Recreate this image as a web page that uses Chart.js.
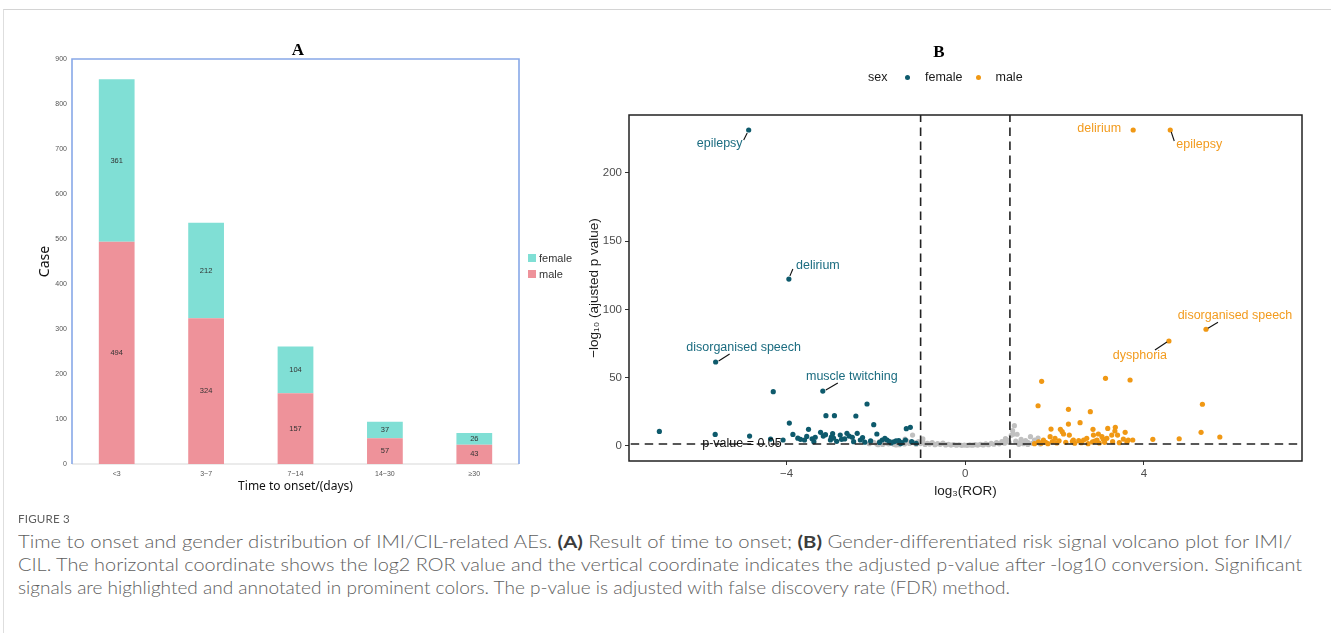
<!DOCTYPE html>
<html>
<head>
<meta charset="utf-8">
<script src="https://cdn.jsdelivr.net/npm/chart.js@4.4.1/dist/chart.umd.min.js"></script>
<style>
  body { margin: 0; background: #fff; width: 1331px; height: 633px; overflow: hidden; position: relative; font-family: 'Liberation Sans', Arial, sans-serif; }
  .card { position: absolute; left: 3px; top: 9px; right: -2px; bottom: -2px; border-top: 1px solid #d4d4d4; border-left: 1px solid #dedede; }
  canvas { position: absolute; top: 0; }
  #chartA { left: 0; }
  #chartB { left: 580px; }
  .ptitle { position: absolute; font-family: 'Liberation Serif', 'DejaVu Serif', serif; font-weight: bold; font-size: 17px; transform: translate(-50%, -50%); color: #000; }
  .leg { position: absolute; font-size: 11px; color: #333; line-height: 12px; }
  .box { position: absolute; width: 7.5px; height: 7.5px; }
  .legB { position: absolute; font-size: 12.5px; color: #1a1a1a; line-height: 14px; }
  .dot { position: absolute; width: 5px; height: 5px; border-radius: 50%; }
  .cap { position: absolute; left: 18px; white-space: nowrap; transform-origin: 0 50%; font-family: Lato, 'Noto Sans', sans-serif; font-weight: 300; color: #5e5e5e; line-height: 20px; height: 20px; }
  .cap b { color: #3c3c3c; font-weight: 700; }
</style>
</head>
<body>
<div class="card"></div>
<canvas id="chartA" width="580" height="510"></canvas>
<canvas id="chartB" width="751" height="510"></canvas>

<div class="ptitle" style="left:298px; top:50px;">A</div>
<div class="ptitle" style="left:939px; top:52px;">B</div>

<div class="box" style="left:528px; top:254px; background:#80dfd5;"></div>
<div class="leg" style="left:539px; top:252px;">female</div>
<div class="box" style="left:528px; top:270px; background:#ee929a;"></div>
<div class="leg" style="left:539px; top:268px;">male</div>

<div class="legB" style="left:868px; top:70px;">sex</div>
<div class="dot" style="left:905px; top:74.5px; background:#0e5a6c;"></div>
<div class="legB" style="left:925px; top:70px;">female</div>
<div class="dot" style="left:975.5px; top:74.5px; background:#f09814;"></div>
<div class="legB" style="left:995.5px; top:70px;">male</div>

<div class="cap fit" data-w="52" style="top:509px; font-size:12px; font-weight:400; letter-spacing:0.2px;">FIGURE 3</div>
<div class="cap fit" data-w="1274" style="top:532px; font-size:17px;">Time to onset and gender distribution of IMI/CIL-related AEs. <b>(A)</b> Result of time to onset; <b>(B)</b> Gender-differentiated risk signal volcano plot for IMI/</div>
<div class="cap fit" data-w="1284" style="top:555px; font-size:17px;">CIL. The horizontal coordinate shows the log2 ROR value and the vertical coordinate indicates the adjusted p-value after -log10 conversion. Significant</div>
<div class="cap fit" data-w="992" style="top:578px; font-size:17px;">signals are highlighted and annotated in prominent colors. The p-value is adjusted with false discovery rate (FDR) method.</div>

<script>
// panel A: time to onset
const onsetLabels = ['<3', '3~7', '7~14', '14~30', '≥30'];
const maleCases = [494, 324, 157, 57, 43];
const femaleCases = [361, 212, 104, 37, 26];
const caseTicks = [0, 100, 200, 300, 400, 500, 600, 700, 800, 900];

// panel B: volcano plot, log ROR (x) and -log10 adjusted p (y)
const femaleX = [-6.85, -5.6, -4.83, -4.30, -4.36, -4.08, -3.94, -3.86, -3.69, -3.60, -3.51, -3.43, -3.36, -3.24, -3.18, -3.39,
  -3.12, -2.93, -3.13, -2.97, -3.02, -2.80, -2.77, -2.65, -2.60, -2.53, -2.45, -2.42, -2.35, -2.20, -2.05, -1.98,
  -1.86, -1.75, -1.60, -1.49, -1.34, -1.32, -1.23, -2.88, -2.70, -2.30, -2.12, -1.92, -1.80, -1.66, -1.55, -1.42, -1.20, -1.10, -3.75,
  -2.50, -2.25, -1.70, -1.45, -3.00, -3.55, -2.95];
const femaleY = [10.5, 8.3, 7.1, 39.6, 4.9, 4.2, 16.6, 8.3, 4.7, 4.2, 12.0, 5.1, 6.2, 9.8, 7.1, 3.0,
  22.0, 22.0, 8.1, 8.8, 4.2, 7.8, 4.7, 9.1, 7.1, 6.2, 21.8, 9.1, 4.2, 30.6, 15.4, 8.6,
  4.2, 4.2, 2.9, 3.7, 4.2, 12.5, 13.5, 3.2, 5.0, 6.0, 3.5, 2.4, 5.4, 2.0, 3.6, 2.2, 3.0, 1.8, 5.5,
  3.0, 2.6, 3.1, 1.6, 6.3, 6.8, 5.6];
const maleX = [1.71, 1.63, 3.14, 3.69, 5.31, 2.31, 2.80, 2.31, 2.57, 1.92, 2.13, 2.86, 3.19, 3.35, 3.36, 3.58, 5.28, 5.70, 4.79, 4.20,
  2.17, 2.20, 2.33, 1.90, 2.01, 1.75, 1.64, 2.42, 2.54, 2.65, 2.72, 2.87, 2.98, 3.06, 2.95, 3.09, 3.17, 3.28, 3.41, 3.54, 3.65, 3.75,
  1.70, 1.80, 1.85, 1.95, 2.05, 2.25, 2.45, 2.60, 2.75, 2.85, 3.00, 3.12, 3.30, 3.45, 3.62, 1.55, 2.10, 2.40, 2.90];
const maleY = [47.2, 29.3, 49.4, 48.2, 30.4, 26.7, 25.0, 15.9, 16.9, 12.2, 12.0, 12.0, 12.7, 10.8, 13.5, 9.8, 9.8, 6.4, 5.1, 4.7,
  10.3, 8.6, 7.8, 6.6, 5.4, 4.2, 2.9, 4.2, 3.7, 4.2, 5.4, 7.8, 8.6, 6.6, 4.2, 4.7, 5.4, 7.8, 7.8, 4.9, 4.2, 4.2,
  1.8, 2.5, 1.5, 3.0, 2.0, 2.5, 1.8, 2.2, 1.5, 2.8, 2.0, 2.5, 3.0, 2.2, 2.8, 1.5, 3.6, 3.2, 3.4];
const grayX = [-2.15, -2.05, -1.98, -1.92, -1.85, -1.78, -1.72, -1.66, -1.60, -1.55, -1.48, -1.42, -1.36, -1.30, -1.25, -1.18, -1.15, -1.10,
  -1.05, -1.00, -0.95, -0.90, -0.85, -0.80, -0.74, -0.68, -0.62, -0.56, -0.50, -0.44, -0.38, -0.32, -0.26, -0.20, -0.14, -0.08, -0.02,
  0.04, 0.10, 0.16, 0.22, 0.28, 0.34, 0.40, 0.46, 0.52, 0.58, 0.64, 0.70, 0.76, 0.82, 0.88, 0.94, 0.98, 1.03, 1.07, 1.10, 1.13, 1.16,
  1.20, 1.25, 1.30, 1.35, 1.40, 1.46, 1.50, 1.55, 1.60, 1.63, 1.68, 1.40, 1.20, -1.55, -1.95, 1.06, 0.90, -0.95, -1.35];
const grayY = [1.5, 2.4, 1.2, 3.1, 0.9, 2.0, 1.4, 2.8, 1.0, 1.9, 0.8, 2.5, 1.3, 3.4, 1.7, 7.8, 2.2, 1.1,
  3.0, 1.6, 2.6, 0.9, 1.8, 1.2, 2.3, 0.8, 1.5, 1.0, 1.9, 0.6, 1.1, 0.5, 0.9, 0.4, 0.7, 0.3, 0.5,
  0.3, 0.6, 0.4, 0.8, 0.5, 1.0, 0.6, 1.3, 0.8, 1.7, 1.1, 2.2, 1.4, 3.0, 1.8, 4.1, 2.5, 7.6, 8.4, 14.7, 3.3, 8.4,
  2.0, 4.6, 1.5, 3.8, 2.4, 6.6, 1.8, 4.2, 2.6, 5.6, 1.2, 0.9, 1.0, 0.6, 0.7, 11.0, 5.2, 5.0, 4.8];

const femaleLabelNames = ['epilepsy', 'delirium', 'disorganised speech', 'muscle twitching'];
const femaleLabelX = [-4.85, -3.95, -5.59, -3.19];
const femaleLabelY = [231.5, 122.2, 61.4, 40.1];
const maleLabelNames = ['delirium', 'epilepsy', 'disorganised speech', 'dysphoria'];
const maleLabelX = [3.76, 4.59, 5.39, 4.56];
const maleLabelY = [231.5, 231.5, 85.4, 76.8];

const xTicksB = [-4, 0, 4];
const yTicksB = [0, 50, 100, 150, 200];
const rorCut = [-1, 1];
const pCut = 1.3;
const pLabel = 'p-value = 0.05';
const pLabelX = -5.0;

function pts(xs, ys) {
  return xs.map((x, i) => ({x: x, y: ys[i]}));
}

const sans = "'Liberation Sans', Arial, sans-serif";

// ---------- chart A ----------
const frameA = {
  id: 'frameA',
  beforeDatasetsDraw(chart) {
    const {ctx, chartArea: a} = chart;
    ctx.save();
    ctx.lineWidth = 1.6;
    ctx.strokeStyle = '#e4e4e4';
    ctx.beginPath(); ctx.moveTo(a.left, a.bottom); ctx.lineTo(a.right, a.bottom); ctx.stroke();
    ctx.strokeStyle = '#88a8e8';
    ctx.beginPath();
    ctx.moveTo(a.left, a.bottom); ctx.lineTo(a.left, a.top);
    ctx.lineTo(a.right, a.top); ctx.lineTo(a.right, a.bottom);
    ctx.stroke();
    ctx.restore();
  }
};

const barValues = {
  id: 'barValues',
  afterDatasetsDraw(chart) {
    const ctx = chart.ctx;
    ctx.save();
    ctx.font = '7.5px ' + sans;
    ctx.fillStyle = '#333';
    ctx.textAlign = 'center';
    ctx.textBaseline = 'middle';
    chart.data.datasets.forEach((ds, i) => {
      chart.getDatasetMeta(i).data.forEach((bar, j) => {
        const p = bar.getProps(['x', 'y', 'base'], true);
        ctx.fillText(ds.data[j], p.x, (p.y + p.base) / 2);
      });
    });
    ctx.restore();
  }
};

new Chart(document.getElementById('chartA'), {
  type: 'bar',
  data: {
    labels: onsetLabels,
    datasets: [
      {label: 'male', data: maleCases, backgroundColor: '#ee929a'},
      {label: 'female', data: femaleCases, backgroundColor: '#80dfd5'}
    ]
  },
  options: {
    responsive: false,
    animation: false,
    devicePixelRatio: 1,
    layout: {padding: {left: 0, top: 59, right: 61, bottom: 16}},
    datasets: {bar: {barPercentage: 0.4, categoryPercentage: 1.0}},
    plugins: {legend: {display: false}, tooltip: {enabled: false}},
    scales: {
      x: {
        stacked: true,
        grid: {display: false, drawTicks: false, tickLength: 0},
        border: {display: false},
        ticks: {font: {size: 7, family: sans}, color: '#555', padding: 6},
        title: {display: true, text: 'Time to onset/(days)', font: {size: 12, family: "'Noto Sans', sans-serif"}, color: '#111', padding: {top: 0, bottom: 0}},
        afterFit: s => { s.height = 30; }
      },
      y: {
        stacked: true,
        min: 0,
        max: 900,
        afterBuildTicks: s => { s.ticks = caseTicks.map(v => ({value: v})); },
        grid: {display: false, drawTicks: false, tickLength: 0},
        border: {display: false},
        ticks: {font: {size: 7, family: sans}, color: '#555', padding: 5},
        title: {display: true, text: 'Case', font: {size: 14, family: "'Noto Sans', sans-serif"}, color: '#111', padding: {top: 36.6, bottom: 0}},
        afterFit: s => { s.width = 72; }
      }
    }
  },
  plugins: [frameA, barValues]
});

// ---------- chart B ----------
// label offsets in px: text dx, dy, then leader line x1, y1, x2, y2 relative to the point
const femaleLabelPos = [[-29, 14, -1.5, 3, -5, 10], [29, -14, 1, -3, 4, -10], [28, -14, 3, -1, 14, -8], [29, -14, 3, -1, 15, -8]];
const maleLabelPos = [[-34, -1, 0, 0, 0, 0], [29, 15, 1, 2, 4, 11], [29, -14, 2, -1, 12, -7], [-29, 15, -2, 1, -14, 9]];

const volcanoLabels = {
  id: 'volcanoLabels',
  afterDatasetsDraw(chart) {
    const {ctx, chartArea: a, scales: {x, y}} = chart;
    ctx.save();
    ctx.lineWidth = 1.5;
    ctx.strokeStyle = '#222';
    ctx.strokeRect(a.left, a.top, a.right - a.left, a.bottom - a.top);

    ctx.font = '12.5px ' + sans;
    ctx.textAlign = 'center';
    ctx.textBaseline = 'middle';
    const groups = [
      [femaleLabelNames, femaleLabelX, femaleLabelY, femaleLabelPos, '#1b6c80'],
      [maleLabelNames, maleLabelX, maleLabelY, maleLabelPos, '#f29b1e']
    ];
    groups.forEach(([names, xs, ys, pos, col]) => {
      names.forEach((n, i) => {
        const px = x.getPixelForValue(xs[i]);
        const py = y.getPixelForValue(ys[i]);
        const o = pos[i];
        if (o[2] !== o[4] || o[3] !== o[5]) {
          ctx.strokeStyle = '#111';
          ctx.lineWidth = 1.1;
          ctx.beginPath();
          ctx.moveTo(px + o[2], py + o[3]);
          ctx.lineTo(px + o[4], py + o[5]);
          ctx.stroke();
        }
        ctx.fillStyle = col;
        ctx.fillText(n, px + o[0], py + o[1]);
      });
    });
    ctx.fillStyle = '#111';
    ctx.fillText(pLabel, x.getPixelForValue(pLabelX), y.getPixelForValue(pCut));
    ctx.restore();
  }
};

const cutLine = {type: 'line', showLine: true, borderColor: '#222', borderWidth: 1.6, borderDash: [8.5, 5.5], pointRadius: 0, order: 0};

new Chart(document.getElementById('chartB'), {
  type: 'scatter',
  data: {
    datasets: [
      Object.assign({data: [{x: rorCut[0], y: -50}, {x: rorCut[0], y: 300}]}, cutLine),
      Object.assign({data: [{x: rorCut[1], y: -50}, {x: rorCut[1], y: 300}]}, cutLine),
      Object.assign({data: [{x: -10, y: pCut}, {x: 10, y: pCut}]}, cutLine),
      {label: 'male', data: pts(maleX.concat(maleLabelX), maleY.concat(maleLabelY)), backgroundColor: '#f09814', pointRadius: 2.6, borderWidth: 0, order: 1},
      {label: 'female', data: pts(femaleX.concat(femaleLabelX), femaleY.concat(femaleLabelY)), backgroundColor: '#0e5a6c', pointRadius: 2.6, borderWidth: 0, order: 2},
      {label: 'ns', data: pts(grayX, grayY), backgroundColor: '#c0c0c0', pointRadius: 2.6, borderWidth: 0, order: 3}
    ]
  },
  options: {
    responsive: false,
    animation: false,
    devicePixelRatio: 1,
    layout: {padding: {left: 0, top: 115, right: 29, bottom: 9}},
    plugins: {legend: {display: false}, tooltip: {enabled: false}},
    scales: {
      x: {
        type: 'linear',
        min: -7.53,
        max: 7.54,
        afterBuildTicks: s => { s.ticks = xTicksB.map(v => ({value: v})); },
        grid: {display: true, drawOnChartArea: false, drawTicks: true, tickLength: 4, color: '#333', lineWidth: 1},
        border: {display: false},
        ticks: {font: {size: 11.5, family: sans}, color: '#4d4d4d', padding: 2, callback: v => String(v).replace('-', '−')},
        title: {display: true, text: 'log₃(ROR)', font: {size: 13.5, family: sans}, color: '#1a1a1a', padding: {top: 0, bottom: 2}},
        afterFit: s => { s.height = 40; }
      },
      y: {
        type: 'linear',
        min: -11.2,
        max: 242.5,
        afterBuildTicks: s => { s.ticks = yTicksB.map(v => ({value: v})); },
        grid: {display: true, drawOnChartArea: false, drawTicks: true, tickLength: 4, color: '#333', lineWidth: 1},
        border: {display: false},
        ticks: {font: {size: 11.5, family: sans}, color: '#4d4d4d', padding: 3},
        title: {display: true, text: '−log₁₀ (ajusted p value)', font: {size: 13.5, family: sans}, color: '#1a1a1a', padding: {top: 6, bottom: 0}},
        afterFit: s => { s.width = 49; }
      }
    }
  },
  plugins: [volcanoLabels]
});

// stretch caption lines to the widths seen in the figure
function fitCaption() {
  document.querySelectorAll('.fit').forEach(el => {
    el.style.transform = 'none';
    const w = el.getBoundingClientRect().width;
    el.style.transform = 'scaleX(' + (Number(el.dataset.w) / w) + ')';
  });
}
fitCaption();
if (document.fonts) document.fonts.ready.then(fitCaption);
</script>
</body>
</html>
